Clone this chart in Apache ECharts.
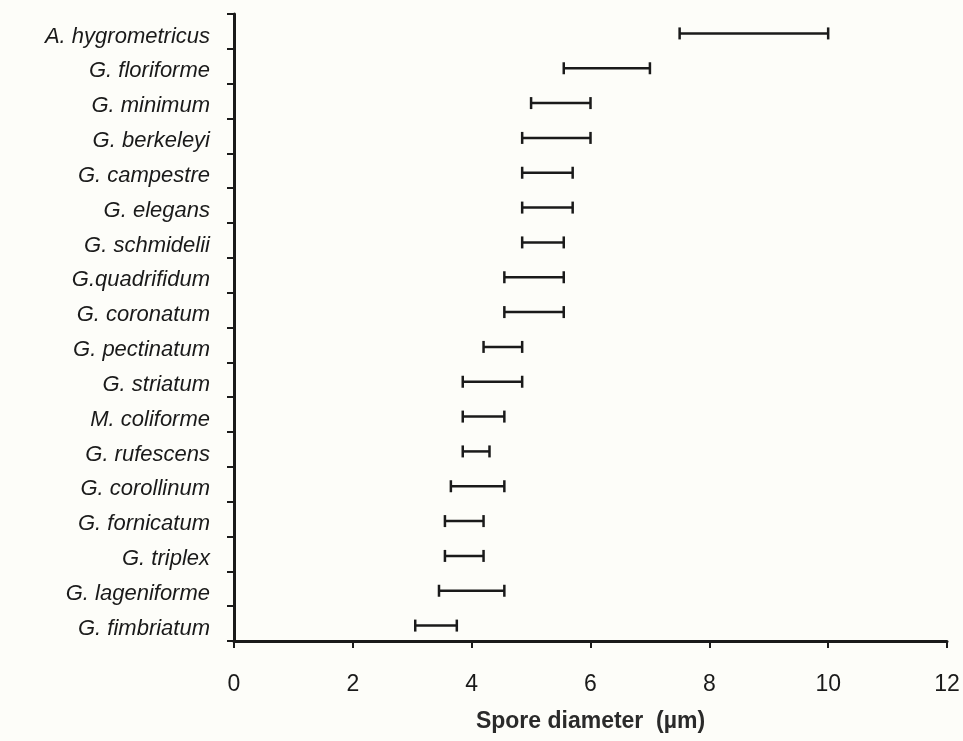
<!DOCTYPE html>
<html>
<head>
<meta charset="utf-8">
<script src="https://cdn.jsdelivr.net/npm/echarts@6/dist/echarts.min.js"></script>
<style>
html,body{margin:0;padding:0;background:#fdfdf9;}
#chart{width:963px;height:741px;}
</style>
</head>
<body>
<div id="chart"></div>
<script>
var species = ['A. hygrometricus','G. floriforme','G. minimum','G. berkeleyi','G. campestre','G. elegans','G. schmidelii','G.quadrifidum','G. coronatum','G. pectinatum','G. striatum','M. coliforme','G. rufescens','G. corollinum','G. fornicatum','G. triplex','G. lageniforme','G. fimbriatum'];
var minDiameter = [7.5, 5.55, 5.0, 4.85, 4.85, 4.85, 4.85, 4.55, 4.55, 4.2, 3.85, 3.85, 3.85, 3.65, 3.55, 3.55, 3.45, 3.05];
var maxDiameter = [10.0, 7.0, 6.0, 6.0, 5.7, 5.7, 5.55, 5.55, 5.55, 4.85, 4.85, 4.55, 4.3, 4.55, 4.2, 4.2, 4.55, 3.75];
var xTicks = [0, 2, 4, 6, 8, 10, 12];

var data = species.map(function (s, i) { return [i, minDiameter[i], maxDiameter[i]]; });

var chart = echarts.init(document.getElementById('chart'));
var ink = '#1a1a1a';
chart.setOption({
  backgroundColor: '#fdfdf9',
  animation: false,
  grid: { left: 234, right: 16, top: 14, bottom: 100 },
  xAxis: {
    type: 'value', min: xTicks[0], max: xTicks[xTicks.length - 1], interval: 2,
    splitLine: { show: false },
    axisLine: { show: true, lineStyle: { color: ink, width: 3 } },
    axisTick: { show: true, inside: false, length: 7, lineStyle: { color: ink, width: 2 } },
    axisLabel: { color: ink, fontFamily: 'Liberation Sans', fontSize: 23, margin: 32 },
    name: 'Spore diameter  (\u00b5m)', nameLocation: 'middle', nameGap: 69,
    nameTextStyle: { color: '#2a2a2a', fontFamily: 'Liberation Sans', fontWeight: 'bold', fontSize: 23 }
  },
  yAxis: {
    type: 'category', data: species, inverse: true, boundaryGap: true,
    axisLine: { show: true, onZero: false, lineStyle: { color: ink, width: 3 } },
    axisTick: { show: true, inside: false, length: 7, alignWithLabel: false, lineStyle: { color: ink, width: 2 } },
    axisLabel: { color: ink, fontFamily: 'Liberation Sans', fontStyle: 'italic', fontSize: 22, margin: 24, verticalAlign: 'top', lineHeight: 10 },
    splitLine: { show: false }
  },
  series: [{
    type: 'custom',
    data: data,
    encode: { x: [1, 2], y: 0 },
    renderItem: function (params, api) {
      var cat = api.value(0);
      var p1 = api.coord([api.value(1), cat]);
      var p2 = api.coord([api.value(2), cat]);
      var y = p1[1] + 2;
      var h = 6;
      var style = { stroke: ink, lineWidth: 2.5 };
      return {
        type: 'group',
        children: [
          { type: 'line', shape: { x1: p1[0], y1: y, x2: p2[0], y2: y }, style: style },
          { type: 'line', shape: { x1: p1[0], y1: y - h, x2: p1[0], y2: y + h }, style: style },
          { type: 'line', shape: { x1: p2[0], y1: y - h, x2: p2[0], y2: y + h }, style: style }
        ]
      };
    }
  }]
});
</script>
</body>
</html>
